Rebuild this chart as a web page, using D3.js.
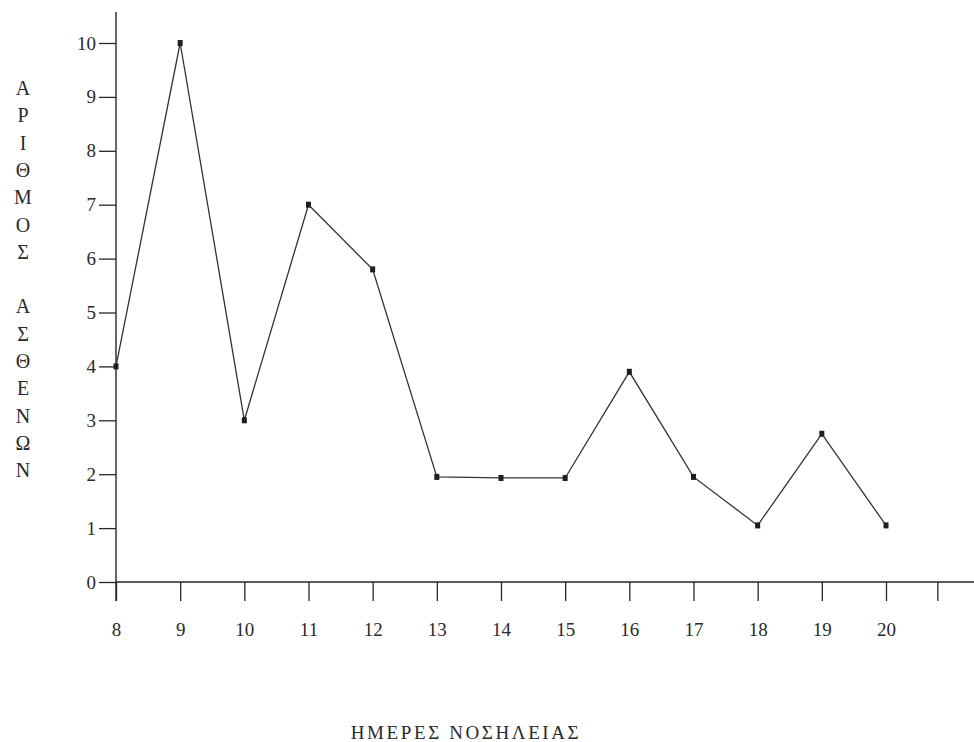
<!DOCTYPE html>
<html>
<head>
<meta charset="utf-8">
<script src="https://cdn.jsdelivr.net/npm/d3@7"></script>
<style>
  html, body { margin: 0; padding: 0; background: #ffffff; }
  svg { display: block; }
  text { font-family: "Liberation Serif", "DejaVu Serif", serif; fill: #2a2a2a; }
</style>
</head>
<body>
<svg id="chart" width="974" height="742"></svg>
<script>
// ---- data ----
const days = [8, 9, 10, 11, 12, 13, 14, 15, 16, 17, 18, 19, 20];
const patients = [4, 10, 3, 7, 5.8, 1.95, 1.93, 1.93, 3.9, 1.95, 1.05, 2.75, 1.05];
const xTickValues = [8, 9, 10, 11, 12, 13, 14, 15, 16, 17, 18, 19, 20, 20.8];
const xTickLabels = ["8", "9", "10", "11", "12", "13", "14", "15", "16", "17", "18", "19", "20", ""];
const yTickValues = [0, 1, 2, 3, 4, 5, 6, 7, 8, 9, 10];
const yTitle = "ΑΡΙΘΜΟΣ ΑΣΘΕΝΩΝ";
const xTitle = "ΗΜΕΡΕΣ ΝΟΣΗΛΕΙΑΣ";

// ---- layout ----
const svg = d3.select("#chart");
const x = d3.scaleLinear().domain([8, 20]).range([116, 886]);
const y = d3.scaleLinear().domain([0, 10]).range([582, 43]);
const ink = "#262626";

// x axis
const xAxis = d3.axisBottom(x)
  .tickValues(xTickValues)
  .tickFormat((d, i) => xTickLabels[i])
  .tickSize(19)
  .tickSizeOuter(0)
  .tickPadding(22);
const gx = svg.append("g").attr("transform", `translate(0,${y(0)})`).call(xAxis);
gx.select(".domain").remove();
gx.selectAll(".tick line").attr("stroke", ink).attr("stroke-width", 1.3);
gx.selectAll(".tick text").attr("font-size", 19).attr("fill", "#2a2a2a")
  .attr("font-family", "'Liberation Serif', serif");
svg.append("line")
  .attr("x1", x(8)).attr("x2", 974)
  .attr("y1", y(0)).attr("y2", y(0))
  .attr("stroke", ink).attr("stroke-width", 1.6);

// y axis
const yAxis = d3.axisLeft(y)
  .tickValues(yTickValues)
  .tickFormat(d3.format("d"))
  .tickSize(17)
  .tickSizeOuter(0)
  .tickPadding(3);
const gy = svg.append("g").attr("transform", `translate(${x(8)},0)`).call(yAxis);
gy.select(".domain").remove();
gy.selectAll(".tick line").attr("stroke", ink).attr("stroke-width", 1.3);
gy.selectAll(".tick text").attr("font-size", 19).attr("fill", "#2a2a2a")
  .attr("font-family", "'Liberation Serif', serif");
svg.append("line")
  .attr("x1", x(8)).attr("x2", x(8))
  .attr("y1", 12).attr("y2", y(0) + 19)
  .attr("stroke", ink).attr("stroke-width", 1.4);

// series line
const line = d3.line().x((d, i) => x(days[i])).y(d => y(d));
svg.append("path")
  .datum(patients)
  .attr("d", line)
  .attr("fill", "none")
  .attr("stroke", "#333")
  .attr("stroke-width", 1.3)
  .attr("stroke-linejoin", "miter");

// markers
svg.append("g").selectAll("rect")
  .data(patients)
  .join("rect")
  .attr("x", (d, i) => x(days[i]) - 2.5)
  .attr("y", d => y(d) - 3)
  .attr("width", 5)
  .attr("height", 6)
  .attr("fill", "#1e1e1e");

// y title (stacked letters)
const yt = svg.append("text")
  .attr("font-size", 20)
  .attr("text-anchor", "middle");
Array.from(yTitle).forEach((ch, i) => {
  yt.append("tspan")
    .attr("x", 23)
    .attr("y", 95 + i * 27.3)
    .text(ch === " " ? "\u00a0" : ch);
});

// x title
svg.append("text")
  .attr("x", 466)
  .attr("y", 739)
  .attr("text-anchor", "middle")
  .attr("font-size", 19)
  .attr("letter-spacing", 2.6)
  .text(xTitle);
</script>
</body>
</html>
